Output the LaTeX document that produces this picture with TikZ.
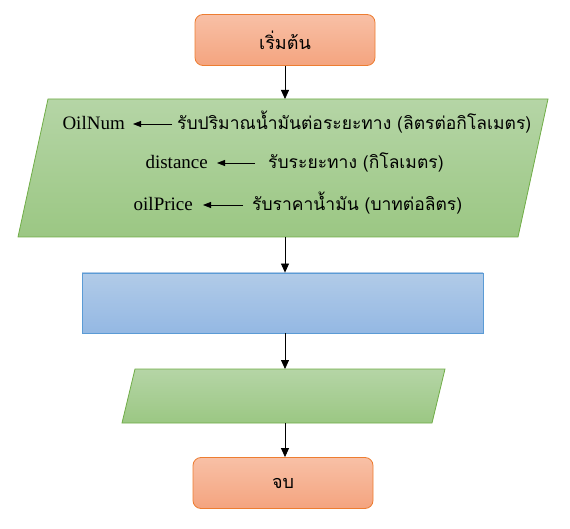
\documentclass[tikz,border=0pt]{standalone}
\usepackage{fontspec}
\setmainfont{Liberation Serif}
\newfontfamily\thai[Script=Thai]{Loma}
\usetikzlibrary{arrows.meta}
\definecolor{orT}{HTML}{F8C0A6}\definecolor{orB}{HTML}{F4A47F}\definecolor{orD}{HTML}{ED7D31}
\definecolor{grT}{HTML}{B5D5A6}\definecolor{grB}{HTML}{9BC783}\definecolor{grD}{HTML}{70AD47}
\definecolor{blT}{HTML}{B1CBE8}\definecolor{blB}{HTML}{94B8E3}\definecolor{blD}{HTML}{5B9BD5}
\tikzset{
  term/.style={draw=orD, line width=0.8pt, top color=orT, bottom color=orB, rounded corners=8pt, minimum width=180pt, minimum height=51pt, font=\thai\fontsize{18}{20}\selectfont},
  iobox/.style={draw=grD, line width=0.8pt, top color=grT, bottom color=grB},
  procbox/.style={draw=blD, line width=0.8pt, top color=blT, bottom color=blB, minimum width=401pt, minimum height=60pt},
  flow/.style={line width=0.8pt, -{Triangle[length=9pt,width=8pt]}},
  inarrow/.style={line width=0.8pt, -{Triangle[length=8pt,width=6pt]}},
  var/.style={font=\fontsize{19}{21}\selectfont, inner sep=0pt, anchor=base east},
  txt/.style={font=\thai\fontsize{17.5}{20}\selectfont, inner sep=0pt, anchor=base west},
}
\begin{document}
\begin{tikzpicture}[x=1pt,y=-1pt]
\useasboundingbox (0,0) rectangle (570,529);
% start
\node[term] (start) at (285,40) {เริ่มต้น};
% input parallelogram
\path[iobox] (48,99) -- (548,99) -- (518,237) -- (18,237) -- cycle;
\coordinate (in1top) at (285,99);
\coordinate (in1bot) at (285,237);
\node[var] (v1) at (125,130) {OilNum};
\node[txt] (t1) at (177,130) {รับปริมาณน้ำมันต่อระยะทาง (ลิตรต่อกิโลเมตร)};
\node[var] (v2) at (208,169) {distance};
\node[txt] (t2) at (268,169) {รับระยะทาง (กิโลเมตร)};
\node[var] (v3) at (193,211) {oilPrice};
\node[txt] (t3) at (252,211) {รับราคาน้ำมัน (บาทต่อลิตร)};
\draw[inarrow] ([xshift=-5pt,yshift=6pt]t1.base west) -- ([xshift=8pt,yshift=6pt]v1.base east);
\draw[inarrow] ([xshift=-13pt,yshift=6pt]t2.base west) -- ([xshift=9pt,yshift=6pt]v2.base east);
\draw[inarrow] ([xshift=-9pt,yshift=6pt]t3.base west) -- ([xshift=10pt,yshift=6pt]v3.base east);
% process
\node[procbox] (proc) at (282.5,303) {};
% output parallelogram
\path[iobox] (135,369) -- (445,369) -- (432,423) -- (122,423) -- cycle;
\coordinate (in2top) at (285,369);
\coordinate (in2bot) at (285,423);
% end
\node[term] (stop) at (283,483) {จบ};
% flow
\draw[flow] (start.south) -- (in1top);
\draw[flow] (in1bot) -- (proc.north -| in1bot);
\draw[flow] (proc.south -| in2top) -- (in2top);
\draw[flow] (in2bot) -- (stop.north -| in2bot);
\end{tikzpicture}
\end{document}
